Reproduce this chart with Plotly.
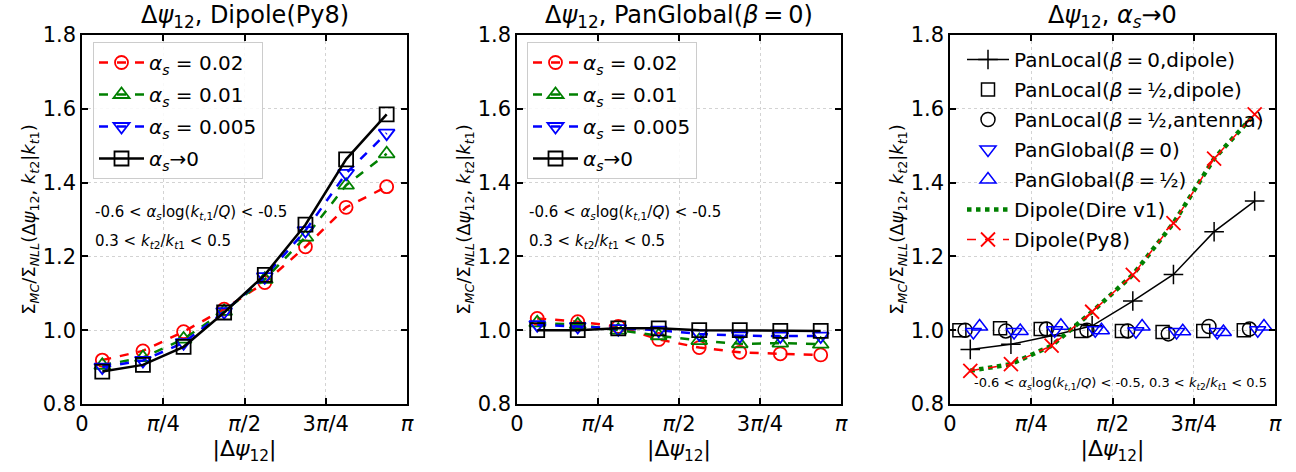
import plotly.graph_objects as go
from plotly.subplots import make_subplots

# ---------------- data ----------------
psi = [0.196, 0.589, 0.982, 1.374, 1.767, 2.160, 2.553, 2.945]  # |Δψ12| bin centres

# Panel 1: Dipole(Py8)
py8_a002 = [0.919, 0.944, 0.996, 1.057, 1.129, 1.226, 1.333, 1.389]
py8_a001 = [0.905, 0.926, 0.976, 1.051, 1.138, 1.252, 1.393, 1.478]
py8_a0005 = [0.900, 0.918, 0.966, 1.050, 1.145, 1.270, 1.425, 1.534]
py8_a0 = [0.888, 0.906, 0.955, 1.048, 1.150, 1.286, 1.463, 1.585]

# Panel 2: PanGlobal(beta=0)
pg_a002 = [1.032, 1.023, 1.010, 0.975, 0.953, 0.940, 0.936, 0.933]
pg_a001 = [1.020, 1.015, 1.000, 0.985, 0.972, 0.963, 0.965, 0.962]
pg_a0005 = [1.015, 1.010, 1.004, 1.000, 0.990, 0.985, 0.984, 0.984]
pg_a0 = [1.000, 1.000, 1.005, 1.005, 1.000, 1.000, 0.998, 0.998]

# Panel 3: alpha_s -> 0
panlocal_b0_dip = [0.948, 0.962, 0.985, 1.012, 1.079, 1.151, 1.267, 1.350]
panlocal_bh_dip = [1.000, 1.005, 1.003, 0.998, 0.998, 0.995, 0.998, 1.000]
panlocal_bh_ant = [1.000, 0.998, 1.003, 1.000, 0.998, 0.990, 1.010, 1.003]
panglobal_b0 = [0.995, 0.995, 1.000, 1.000, 0.997, 0.995, 0.995, 1.000]
panglobal_bh = [1.010, 0.998, 1.012, 1.000, 1.010, 0.997, 0.995, 1.010]
dire_v1 = [0.890, 0.908, 0.958, 1.050, 1.150, 1.290, 1.465, 1.585]
dipole_py8 = [0.890, 0.908, 0.958, 1.050, 1.150, 1.290, 1.465, 1.585]

alpha_labels = ["<i>α<sub>s</sub></i> = 0.02", "<i>α<sub>s</sub></i> = 0.01",
                "<i>α<sub>s</sub></i> = 0.005", "<i>α<sub>s</sub></i>→0"]

xtick_vals = [0, 0.7853981634, 1.5707963268, 2.3561944902, 3.1415926536]
xtick_text = ["0", "<i>π</i>/4", "<i>π</i>/2", "3<i>π</i>/4", "<i>π</i>"]
ytick_vals = [0.8, 1.0, 1.2, 1.4, 1.6, 1.8]

FONT = "DejaVu Sans"
FW, FH = 1296, 472
EQ = "\u2009=\u2009"


def px(x):  # page pixel -> paper fraction
    return x / FW


def py(y):
    return 1 - y / FH


fig = make_subplots(rows=1, cols=3)

dom_x = [(px(82), px(407)), (px(517), px(841)), (px(950), px(1275))]
dom_y = (py(404), py(35))

# ---------- panels 1 & 2 ----------
styles = [
    dict(color="#ff0000", symbol="circle-open", dash="dash", size=13),
    dict(color="#008000", symbol="triangle-up-open", dash="dash", size=14),
    dict(color="#0000ff", symbol="triangle-down-open", dash="dash", size=14),
    dict(color="#000000", symbol="square-open", dash="solid", size=14),
]
for col, (series, leg) in enumerate([((py8_a002, py8_a001, py8_a0005, py8_a0), "legend"),
                                     ((pg_a002, pg_a001, pg_a0005, pg_a0), "legend2")], start=1):
    for i, (ys, st, lab) in enumerate(zip(series, styles, alpha_labels)):
        fig.add_trace(go.Scatter(
            x=psi, y=ys, mode="lines+markers", name=lab,
            line=dict(color=st["color"], dash=st["dash"], width=2.5),
            marker=dict(symbol=st["symbol"], size=st["size"], color=st["color"],
                        line=dict(width=1.8, color=st["color"])),
            legend=leg, legendgroup=f"{leg}_{i}",
        ), row=1, col=col)

# ---------- panel 3 ----------
def shifted(off):
    return [v + off for v in psi]

p3 = [
    dict(name=f"PanLocal(<i>β</i>{EQ}0,dipole)", y=panlocal_b0_dip, x=psi, mode="lines+markers",
         line=dict(color="black", width=1.5), marker=dict(symbol="cross-thin-open", size=14,
                                                          color="black", line=dict(width=1.5, color="black"))),
    dict(name=f"PanLocal(<i>β</i>{EQ}½,dipole)", y=panlocal_bh_dip, x=shifted(-0.105), mode="markers",
         line=dict(color="black"), marker=dict(symbol="square-open", size=13, color="black",
                                               line=dict(width=1.5, color="black"))),
    dict(name=f"PanLocal(<i>β</i>{EQ}½,antenna)", y=panlocal_bh_ant, x=shifted(-0.05), mode="markers",
         line=dict(color="black"), marker=dict(symbol="circle-open", size=14, color="black",
                                               line=dict(width=1.5, color="black"))),
    dict(name=f"PanGlobal(<i>β</i>{EQ}0)", y=panglobal_b0, x=shifted(0.03), mode="markers",
         line=dict(color="blue"), marker=dict(symbol="triangle-down-open", size=14, color="#0000ff",
                                              line=dict(width=1.5, color="#0000ff"))),
    dict(name=f"PanGlobal(<i>β</i>{EQ}½)", y=panglobal_bh, x=shifted(0.09), mode="markers",
         line=dict(color="blue"), marker=dict(symbol="triangle-up-open", size=14, color="#0000ff",
                                              line=dict(width=1.5, color="#0000ff"))),
    dict(name="Dipole(Dire v1)", y=dire_v1, x=psi, mode="lines",
         line=dict(color="#008000", width=4.5, dash="dot"), marker=None),
    dict(name="Dipole(Py8)", y=dipole_py8, x=psi, mode="lines+markers",
         line=dict(color="#ff0000", width=1.5, dash="dash"),
         marker=dict(symbol="x-thin-open", size=14, color="#ff0000", line=dict(width=1.8, color="#ff0000"))),
]
for i, d in enumerate(p3):
    kw = dict(x=d["x"], y=d["y"], mode=d["mode"], name=d["name"], line=d["line"],
              legend="legend3", legendgroup=f"l3_{i}")
    if d["marker"] is not None:
        kw["marker"] = d["marker"]
    fig.add_trace(go.Scatter(**kw), row=1, col=3)

# ---------- axes ----------
ytitle = "Σ<sub><i>MC</i></sub>/Σ<sub><i>NLL</i></sub>(Δ<i>ψ</i><sub>12</sub>, <i>k</i><sub><i>t</i>2</sub>|<i>k</i><sub><i>t</i>1</sub>)"
for c in range(1, 4):
    fig.update_xaxes(row=1, col=c, domain=list(dom_x[c - 1]), range=[0, 3.1415926536],
                     tickvals=xtick_vals, ticktext=xtick_text, automargin=False,
                     ticks="inside", ticklen=6, tickwidth=1.5, tickcolor="black",
                     showline=True, linecolor="black", linewidth=1.5, mirror="ticks",
                     showgrid=True, gridcolor="#d3d3d3", griddash="dot", gridwidth=1,
                     zeroline=False, tickfont=dict(size=21, family=FONT, color="black"),
                     title=dict(text="|Δ<i>ψ</i><sub>12</sub>|", font=dict(size=22, family=FONT, color="black"),
                                standoff=4))
    fig.update_yaxes(row=1, col=c, domain=list(dom_y), range=[0.8, 1.8],
                     tickvals=ytick_vals, ticktext=[f"{v:.1f}" for v in ytick_vals], automargin=False,
                     ticks="inside", ticklen=6, tickwidth=1.5, tickcolor="black",
                     showline=True, linecolor="black", linewidth=1.5, mirror="ticks",
                     showgrid=True, gridcolor="#d3d3d3", griddash="dot", gridwidth=1,
                     zeroline=False, tickfont=dict(size=21, family=FONT, color="black"),
                     title=dict(text=ytitle, font=dict(size=18, family=FONT, color="black"), standoff=2))

# ---------- titles ----------
titles = ["Δ<i>ψ</i><sub>12</sub>, Dipole(Py8)", f"Δ<i>ψ</i><sub>12</sub>, PanGlobal(<i>β</i>{EQ}0)",
          "Δ<i>ψ</i><sub>12</sub>, <i>α<sub>s</sub></i>→0"]
annotations = []
for (x0, x1), t in zip(dom_x, titles):
    annotations.append(dict(x=(x0 + x1) / 2, y=py(16), xref="paper", yref="paper", text=t,
                            showarrow=False, xanchor="center", yanchor="middle",
                            font=dict(size=24, family=FONT, color="black")))

cut1 = "-0.6 < <i>α<sub>s</sub></i>log(<i>k</i><sub><i>t</i>,1</sub>/<i>Q</i>) < -0.5"
cut2 = "0.3 < <i>k</i><sub><i>t</i>2</sub>/<i>k</i><sub><i>t</i>1</sub> < 0.5"
for x0 in (93, 527):
    annotations.append(dict(x=px(x0), y=py(212), xref="paper", yref="paper", text=cut1,
                            showarrow=False, xanchor="left", yanchor="middle",
                            font=dict(size=15, family=FONT, color="black")))
    annotations.append(dict(x=px(x0), y=py(241), xref="paper", yref="paper", text=cut2,
                            showarrow=False, xanchor="left", yanchor="middle",
                            font=dict(size=15, family=FONT, color="black")))
annotations.append(dict(x=px(972), y=py(383), xref="paper", yref="paper",
                        text=cut1 + ", 0.3 < <i>k</i><sub><i>t</i>2</sub>/<i>k</i><sub><i>t</i>1</sub> < 0.5",
                        showarrow=False, xanchor="left", yanchor="middle",
                        font=dict(size=13, family=FONT, color="black")))

leg_common = dict(font=dict(size=20, family=FONT, color="black"), bgcolor="rgba(255,255,255,0.85)",
                  bordercolor="#cccccc", borderwidth=1, xanchor="left", yanchor="top",
                  tracegroupgap=3, itemwidth=45)
fig.update_layout(
    width=FW, height=FH, margin=dict(l=0, r=0, t=0, b=0),
    paper_bgcolor="white", plot_bgcolor="white", showlegend=True,
    font=dict(family=FONT, color="black"),
    legend=dict(x=px(93), y=py(42), **leg_common),
    legend2=dict(x=px(527), y=py(42), **leg_common),
    legend3=dict(x=px(962), y=py(40), xanchor="left", yanchor="top",
                 font=dict(size=20, family=FONT, color="black"), bgcolor="rgba(0,0,0,0)",
                 borderwidth=0, tracegroupgap=1, itemwidth=42),
    annotations=annotations,
)

fig.write_html("out.html", config={"displayModeBar": False},
               post_script="document.body.style.margin='0';document.body.style.overflow='hidden';")
